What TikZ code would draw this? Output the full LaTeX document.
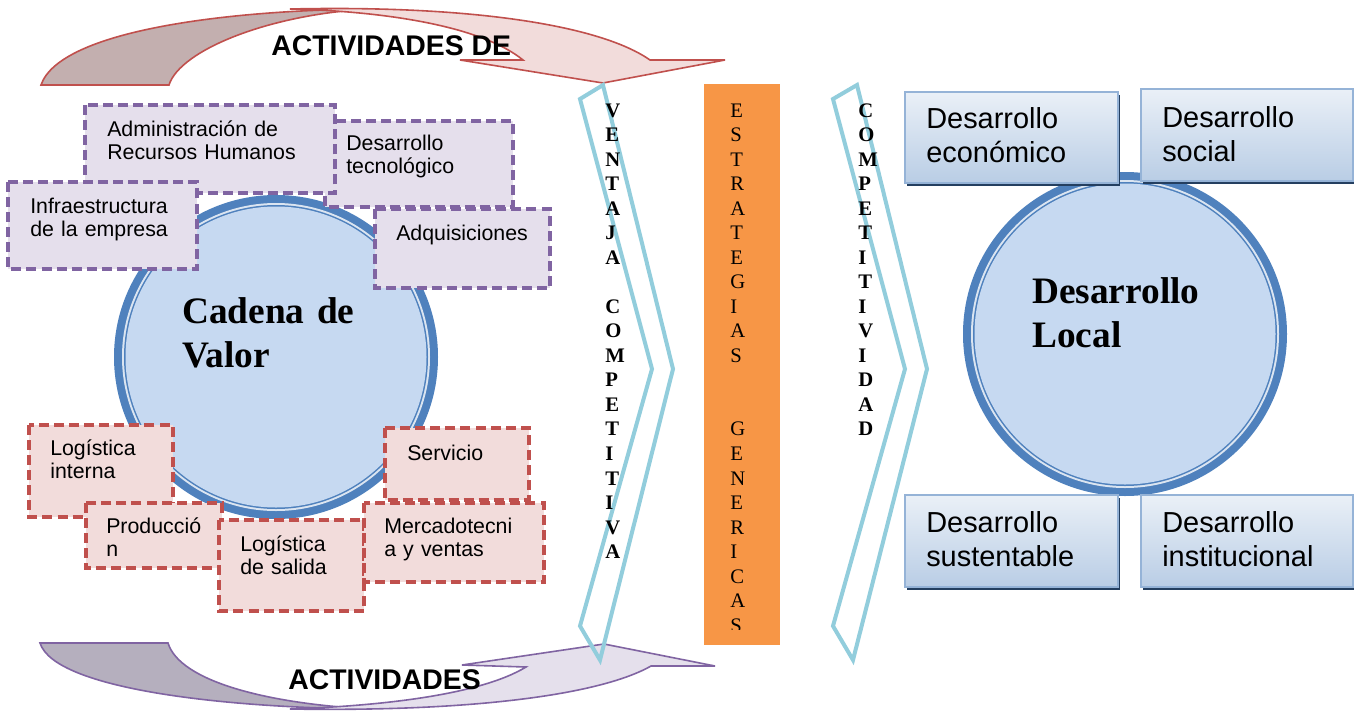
\documentclass[tikz,border=0pt]{standalone}
\usepackage{fontspec}
\setmainfont{Liberation Serif}
\setsansfont{Liberation Sans}

\definecolor{rojoborde}{RGB}{192,80,77}
\definecolor{rojoclaro}{RGB}{242,220,219}
\definecolor{rojooscuro}{RGB}{195,175,175}
\definecolor{moradoborde}{RGB}{128,100,162}
\definecolor{moradoclaro}{RGB}{229,224,236}
\definecolor{moradooscuro}{RGB}{181,175,190}
\definecolor{lilafondo}{RGB}{229,223,236}
\definecolor{celeste}{RGB}{146,205,220}
\definecolor{naranja}{RGB}{247,150,70}
\definecolor{azulanillo}{RGB}{79,129,189}
\definecolor{azulrelleno}{RGB}{198,217,241}
\definecolor{azulpalido}{RGB}{219,229,241}
\definecolor{azulborde}{RGB}{149,179,215}
\definecolor{azulsombra}{RGB}{36,63,96}
\definecolor{azulgrad}{RGB}{185,205,229}

\tikzset{
  cajamorada/.style={draw=moradoborde, fill=lilafondo, line width=2.3pt, dash pattern=on 7.5pt off 3.8pt},
  cajaroja/.style={draw=rojoborde, fill=rojoclaro, line width=2.3pt, dash pattern=on 7.5pt off 3.8pt},
  cajaazul/.style={draw=azulborde, line width=1.5pt, top color=white!70!azulgrad, bottom color=azulgrad},
  textocaja/.style={anchor=base west, inner sep=0pt, text width=6cm, align=left, font=\sffamily\fontsize{16}{17.8}\selectfont},
  textoazul/.style={anchor=base west, inner sep=0pt, text width=6cm, align=left, font=\sffamily\fontsize{21.7}{25.5}\selectfont},
  textocirculo/.style={anchor=base west, inner sep=0pt, text width=6cm, align=left, font=\bfseries\fontsize{28}{33.5}\selectfont},
  titulo/.style={anchor=base west, inner sep=0pt, font=\sffamily\bfseries\fontsize{21.3}{24}\selectfont},
  columna/.style={anchor=base west, inner sep=0pt, text width=1cm, align=left, font=\fontsize{15.5}{18.4}\selectfont},
  cheurón/.style={draw=celeste, line width=3pt, line join=miter}
}

\begin{document}
\begin{tikzpicture}[x=0.75pt,y=0.75pt,yscale=-1,xscale=1]
\useasboundingbox (0,0) rectangle (1354,711);
%Shape: Curved Arrow (top)
\draw [rojoborde, fill=rojooscuro, line width=1.2pt] (41,85) .. controls (60,30) and (230,10) .. (370,9) .. controls (270,14) and (180,50) .. (169,85) -- cycle ;
\draw [rojoborde, fill=rojoclaro, line width=1.2pt] (290,9) .. controls (470,5) and (600,25) .. (650,60) -- (725,60) -- (603,83) -- (460,60) -- (523,60) .. controls (480,25) and (380,11) .. (290,9) -- cycle ;
%Shape: Curved Arrow (bottom)
\draw [moradoborde, fill=moradooscuro, line width=1.2pt] (40,643) .. controls (55,690) and (230,708) .. (370,709) .. controls (270,704) and (180,682) .. (168,643) -- cycle ;
\draw [moradoborde, fill=moradoclaro, line width=1.2pt] (290,709) .. controls (470,712) and (600,695) .. (651,666) -- (715,666) -- (604,644) -- (462,665) -- (526,667) .. controls (480,695) and (380,706) .. (290,709) -- cycle ;
% Text Node
\node [titulo] (arriba) at (271,55) {ACTIVIDADES DE};
% Text Node
\node [titulo] (abajo) at (288,689) {ACTIVIDADES};

%Shape: Chevrons
\draw [cheurón] (580,99) -- (603,85) -- (673,369) -- (600,660) -- (580,626) -- (652,369) -- cycle ;
\draw [cheurón] (833,99) -- (857,85) -- (927,369) -- (853,660) -- (833,626) -- (905,369) -- cycle ;
%Shape: Rectangle
\fill [naranja] (704,84) rectangle (780,645) ;
% Text Node
\node [columna, font=\bfseries\fontsize{15.5}{18.4}\selectfont] (ventaja) at (605,117) {V\\E\\N\\T\\A\\J\\A\\\mbox{}\\C\\O\\M\\P\\E\\T\\I\\T\\I\\V\\A};
\begin{scope}
\clip (704,84) rectangle (780,629);
% Text Node
\node [columna] (estrategias) at (730,117) {E\\S\\T\\R\\A\\T\\E\\G\\I\\A\\S\\\mbox{}\\\mbox{}\\G\\E\\N\\E\\R\\I\\C\\A\\S};
\end{scope}
% Text Node
\node [columna, font=\bfseries\fontsize{15.5}{18.4}\selectfont] (competitividad) at (858,117) {C\\O\\M\\P\\E\\T\\I\\T\\I\\V\\I\\D\\A\\D};

%Shape: Circle (left)
\fill [azulanillo] (276,357) circle (162) ;
\fill [azulpalido] (276,357) circle (154) ;
\fill [azulanillo] (276,357) circle (152) ;
\fill [azulrelleno] (276,357) circle (150.5) ;
% Text Node
\node [textocirculo] (cadena) at (182,323) {Cadena de\\Valor};

%Shape: Circle (right)
\fill [azulanillo] (1125,334) circle (162) ;
\fill [azulpalido] (1125,334) circle (154) ;
\fill [azulanillo] (1125,334) circle (152) ;
\fill [azulrelleno] (1125,334) circle (150.5) ;
% Text Node
\node [textocirculo] (local) at (1032,303) {Desarrollo\\Local};

%Shape: Rectangle (apoyo)
\draw [cajamorada] (325,121) rectangle (513,207) ;
\draw [cajamorada] (85,105) rectangle (335,193) ;
\draw [cajamorada] (8,182) rectangle (197,269) ;
\draw [cajamorada] (375,209) rectangle (550,288) ;
% Text Node
\node [textocaja] (tec) at (346,150) {Desarrollo\\tecnológico};
% Text Node
\node [textocaja] (adm) at (107,136) {Administración de\\Recursos Humanos};
% Text Node
\node [textocaja] (inf) at (30,213) {Infraestructura\\de la empresa};
% Text Node
\node [textocaja] (adq) at (396,240) {Adquisiciones};

%Shape: Rectangle (primarias)
\draw [cajaroja] (29,425) rectangle (173,517) ;
\draw [cajaroja] (86,503) rectangle (222,568) ;
\draw [cajaroja] (219,520) rectangle (364,611) ;
\draw [cajaroja] (385,428) rectangle (529,500) ;
\draw [cajaroja] (364,503) rectangle (544,582) ;
% Text Node
\node [textocaja] (lint) at (50,455) {Logística\\interna};
% Text Node
\node [textocaja] (pro) at (106,533) {Producció\\n};
% Text Node
\node [textocaja] (lsal) at (240,551) {Logística\\de salida};
% Text Node
\node [textocaja] (ser) at (407,460) {Servicio};
% Text Node
\node [textocaja] (mer) at (384,533) {Mercadotecni\\a y ventas};

%Shape: Rectangle (desarrollo)
\fill [azulsombra] (907,95) rectangle (1120,186) ;
\shade [cajaazul] (905,92) rectangle (1118,183) ;
\fill [azulsombra] (1143,92) rectangle (1355,184) ;
\shade [cajaazul] (1141,89) rectangle (1353,181) ;
\fill [azulsombra] (907,498) rectangle (1120,590) ;
\shade [cajaazul] (905,495) rectangle (1118,587) ;
\fill [azulsombra] (1143,498) rectangle (1355,590) ;
\shade [cajaazul] (1141,495) rectangle (1353,587) ;
\draw [azulborde, line width=1.5pt] (905,92) rectangle (1118,183) (1141,89) rectangle (1353,181) (905,495) rectangle (1118,587) (1141,495) rectangle (1353,587) ;
% Text Node
\node [textoazul] (eco) at (926,128) {Desarrollo\\económico};
% Text Node
\node [textoazul] (soc) at (1162,127) {Desarrollo\\social};
% Text Node
\node [textoazul] (sus) at (926,532) {Desarrollo\\sustentable};
% Text Node
\node [textoazul] (ins) at (1162,532) {Desarrollo\\institucional};
\end{tikzpicture}
\end{document}
